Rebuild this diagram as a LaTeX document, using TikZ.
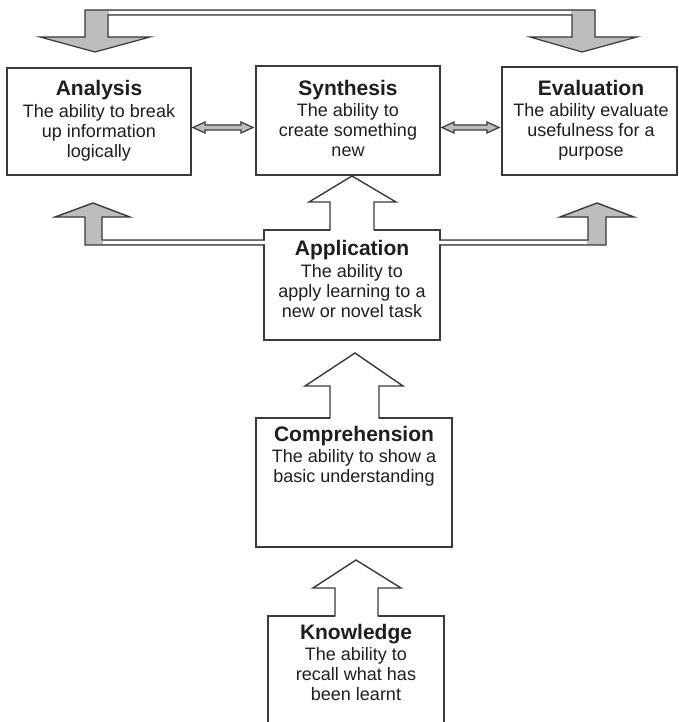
\documentclass[tikz,border=0pt]{standalone}
\usepackage{fontspec}
\setmainfont{Liberation Sans}
\definecolor{boxline}{HTML}{3A3A3A}
\definecolor{arrowfill}{HTML}{BDBDBD}
\definecolor{txtcol}{HTML}{1E1E1E}
\tikzset{
  box/.style={draw=boxline, line width=1.4pt, fill=white, rectangle, inner sep=0pt, outer sep=0pt},
  txt/.style={text=txtcol, align=center, inner sep=0pt, anchor=base, font=\fontsize{18}{20}\selectfont},
  grayarrow/.style={draw=boxline, line width=1.2pt, fill=arrowfill, line join=miter},
  arrowline/.style={draw=boxline, line width=1.4pt, line join=miter},
}
\newcommand{\ttl}[1]{{\bfseries\fontsize{21}{22}\selectfont #1}}
\begin{document}
\begin{tikzpicture}[x=1pt,y=-1pt]
\useasboundingbox (0,0) rectangle (678,722);
\fill[white] (0,0) rectangle (678,722);
\clip (0,0) rectangle (678,722);

% boxes
\node[box, minimum width=184, minimum height=107] (ana) at (99,121.5) {};
\node[box, minimum width=184, minimum height=109] (syn) at (348,120.5) {};
\node[box, minimum width=175, minimum height=108] (eva) at (589.5,121) {};
\node[box, minimum width=176, minimum height=110] (app) at (352,285) {};
\node[box, minimum width=196, minimum height=129] (comp) at (354,482.5) {};
\node[box, minimum width=176, minimum height=130] (know) at (356,681) {};

% texts (base anchor = baseline of the last line)
\node[txt] (anaT) at (99,157.5) {\ttl{Analysis}\\[2pt] The ability to break\\ up information\\ logically};
\node[txt] (synT) at (348,156.5) {\ttl{Synthesis}\\[1pt] The ability to\\ create something\\ new};
\node[txt] (evaT) at (591,156.5) {\ttl{Evaluation}\\[1pt] The ability evaluate\\ usefulness for a\\ purpose};
\node[txt] (appT) at (352,317.5) {\ttl{Application}\\[2pt] The ability to\\ apply learning to a\\ new or novel task};
\node[txt] (compT) at (354,482.5) {\ttl{Comprehension}\\[1pt] The ability to show a\\ basic understanding};
\node[txt] (knowT) at (356,700.5) {\ttl{Knowledge}\\[1pt] The ability to\\ recall what has\\ been learnt};

% top forked arrow (Synthesis level -> Analysis / Evaluation)
\path[grayarrow] (40,37) -- (95,52) -- (150,37) -- (108,37) -- (108,15) -- (572,15)
  -- (572,37) -- (530,37) -- (582,52) -- (637,37) -- (595,37) -- (595,10) -- (85,10) -- (85,37) -- cycle;
\fill[white] (108.6,10.7) rectangle (571.4,14.3);

% double arrows
\path[grayarrow] (193,127.5) -- (205,122) -- (205,125) -- (241,125) -- (241,122) -- (253,127.5)
  -- (241,133) -- (241,130) -- (205,130) -- (205,133) -- cycle;
\path[grayarrow] (442,127.5) -- (454,122) -- (454,125) -- (487,125) -- (487,122) -- (499,127.5)
  -- (487,133) -- (487,130) -- (454,130) -- (454,133) -- cycle;

% side arrows from Application
\fill[arrowfill] (265.2,245) -- (85,245) -- (85,217) -- (55,217) -- (93,203) -- (130,217) -- (102,217) -- (102,240) -- (265.2,240) -- cycle;
\fill[white] (102.6,240.7) rectangle (265.2,244.3);
\draw[arrowline] (265.2,245) -- (85,245) -- (85,217) -- (55,217) -- (93,203) -- (130,217) -- (102,217) -- (102,240) -- (265.2,240);

\fill[arrowfill] (438.8,245) -- (606,245) -- (606,217) -- (634,217) -- (597,203) -- (560,217) -- (588,217) -- (588,240) -- (438.8,240) -- cycle;
\fill[white] (438.8,240.7) rectangle (587.4,244.3);
\draw[arrowline] (438.8,245) -- (606,245) -- (606,217) -- (634,217) -- (597,203) -- (560,217) -- (588,217) -- (588,240) -- (438.8,240);

% white up arrows
\fill[white] (330,231.5) -- (330,202) -- (309,202) -- (352,176) -- (396,202) -- (374,202) -- (374,231.5) -- cycle;
\draw[arrowline] (330,230.7) -- (330,202) -- (309,202) -- (352,176) -- (396,202) -- (374,202) -- (374,230.7);

\fill[white] (330,419.5) -- (330,386) -- (305,386) -- (355,353) -- (403,386) -- (379,386) -- (379,419.5) -- cycle;
\draw[arrowline] (330,418.7) -- (330,386) -- (305,386) -- (355,353) -- (403,386) -- (379,386) -- (379,418.7);

\fill[white] (335,617.5) -- (335,588) -- (313,588) -- (356,560) -- (401,588) -- (378,588) -- (378,617.5) -- cycle;
\draw[arrowline] (335,616.7) -- (335,588) -- (313,588) -- (356,560) -- (401,588) -- (378,588) -- (378,616.7);
\end{tikzpicture}
\end{document}
